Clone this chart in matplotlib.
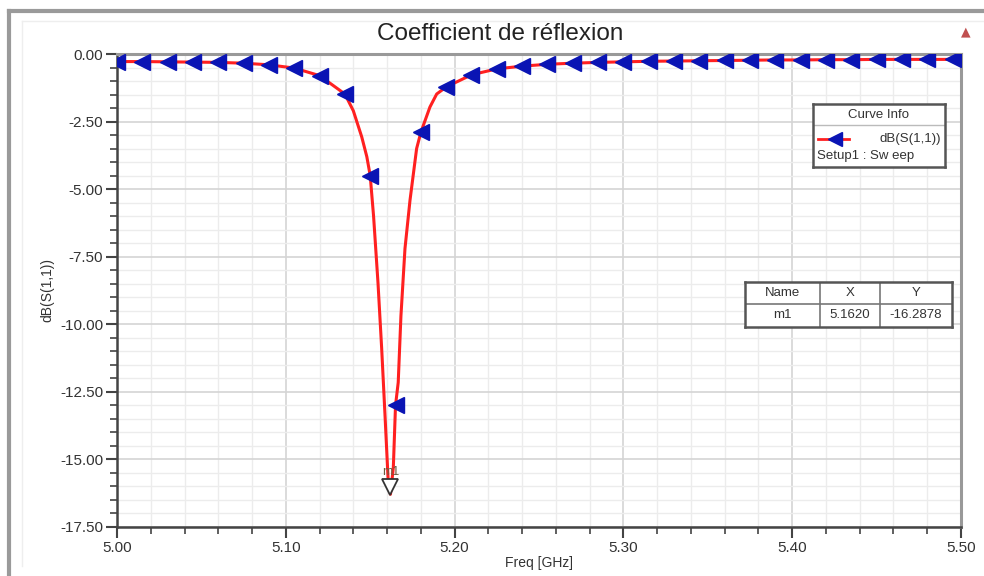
import matplotlib
matplotlib.use("Agg")
import matplotlib.pyplot as plt
from matplotlib.lines import Line2D
import matplotlib.transforms as mtransforms

plt.rcParams['font.family'] = ['Liberation Sans', 'DejaVu Sans']

# S11 curve (GHz, dB)
freq = [5.000, 5.015, 5.030, 5.045, 5.060, 5.075, 5.090, 5.105, 5.120, 5.135,
        5.140, 5.145, 5.148, 5.150, 5.152, 5.1546, 5.1568, 5.1588, 5.1607, 5.162,
        5.1637, 5.165, 5.1666, 5.1682, 5.1706, 5.1736, 5.1775, 5.180, 5.1854, 5.1894,
        5.195, 5.210, 5.225, 5.240, 5.255, 5.270, 5.285, 5.300, 5.315, 5.330,
        5.345, 5.360, 5.375, 5.390, 5.405, 5.420, 5.435, 5.450, 5.465, 5.480,
        5.495, 5.500]
s11 = [-0.28, -0.28, -0.29, -0.30, -0.31, -0.34, -0.40, -0.52, -0.80, -1.48,
       -2.10, -3.07, -3.80, -4.50, -6.00, -8.45, -10.90, -13.40, -15.85, -16.29,
       -15.30, -13.00, -12.15, -9.70, -7.20, -5.40, -3.50, -2.90, -1.96, -1.48,
       -1.22, -0.77, -0.55, -0.45, -0.38, -0.34, -0.31, -0.29, -0.27, -0.26,
       -0.25, -0.24, -0.23, -0.22, -0.22, -0.21, -0.21, -0.20, -0.20, -0.20,
       -0.20, -0.20]
# markers are drawn every 0.015 GHz
marker_freq = [5.000, 5.015, 5.030, 5.045, 5.060, 5.075, 5.090, 5.105, 5.120, 5.135,
               5.150, 5.165, 5.180, 5.195, 5.210, 5.225, 5.240, 5.255, 5.270, 5.285,
               5.300, 5.315, 5.330, 5.345, 5.360, 5.375, 5.390, 5.405, 5.420, 5.435,
               5.450, 5.465, 5.480, 5.495]
mark_idx = [freq.index(f) for f in marker_freq]

m1_x = 5.1620
m1_y = -16.2878

xticks = [5.00, 5.10, 5.20, 5.30, 5.40, 5.50]
yticks = [0.00, -2.50, -5.00, -7.50, -10.00, -12.50, -15.00, -17.50]

fig = plt.figure(figsize=(9.84, 5.76), dpi=100)
W, H = 984.0, 576.0

# outer window frame
fig.add_artist(Line2D([9 / W, 9 / W], [0, 1 - 11 / H], transform=fig.transFigure, color='#9a9a9a', lw=3))
fig.add_artist(Line2D([9 / W, 1], [1 - 11 / H, 1 - 11 / H], transform=fig.transFigure, color='#9a9a9a', lw=3))
fig.add_artist(Line2D([22 / W, 1], [1 - 21 / H, 1 - 21 / H], transform=fig.transFigure, color='#eeeeee', lw=1))
fig.add_artist(Line2D([22 / W, 22 / W], [10 / H, 1 - 21 / H], transform=fig.transFigure, color='#eeeeee', lw=1))

ax = fig.add_axes([117 / W, 1 - 527 / H, (961 - 117) / W, (527 - 54) / H])

ax.plot(freq, s11, color='#ff2020', lw=2.2, zorder=3)
ax.plot([freq[i] for i in mark_idx], [s11[i] for i in mark_idx], ls='none',
        marker='<', ms=12, color='#0a14b4', mec='#0a14b4', zorder=4)

# m1 marker (hollow triangle with its tip on the point)
off = mtransforms.offset_copy(ax.transData, fig=fig, x=0, y=7, units='dots')
ax.plot([m1_x], [m1_y], marker='v', ms=11, mfc='white', mec='#333333', mew=1.3,
        transform=off, zorder=5, clip_on=False)
ax.text(m1_x, m1_y, 'm1', transform=mtransforms.offset_copy(ax.transData, fig=fig, x=0, y=16, units='dots'),
        ha='center', va='bottom', fontsize=9, color='#6b5a40', zorder=5)

ax.set_xlim(5.0, 5.5)
ax.set_ylim(-17.5, 0.0)
ax.set_xticks(xticks)
ax.set_yticks(yticks)
ax.set_xticklabels(['%.2f' % v for v in xticks], fontsize=11, color='#333333')
ax.set_yticklabels(['%.2f' % v for v in yticks], fontsize=11, color='#333333')
ax.set_xticks([5.0 + 0.02 * i for i in range(26)], minor=True)
ax.set_yticks([-0.5 * i for i in range(36)], minor=True)
ax.tick_params(which='major', direction='out', length=8, width=1.5, color='#444444', pad=2)
ax.tick_params(which='minor', direction='out', length=5, width=1.2, color='#444444')
ax.grid(which='major', color='#d4d4d4', lw=1.2)
ax.grid(which='minor', color='#ececec', lw=1.0)
ax.set_axisbelow(True)

for side in ['left', 'bottom']:
    ax.spines[side].set_color('#444444')
    ax.spines[side].set_linewidth(1.8)
for side in ['top', 'right']:
    ax.spines[side].set_color('#999999')
    ax.spines[side].set_linewidth(2.2)

ax.set_xlabel('Freq [GHz]', fontsize=10, color='#333333', labelpad=1)
ax.set_ylabel('dB(S(1,1))', fontsize=10, color='#333333', labelpad=4)

fig.text(500 / W, 1 - 34 / H, 'Coefficient de réflexion', ha='center', va='center', fontsize=17.5, color='#222222')
fig.text(966 / W, 1 - 32 / H, '▲', ha='center', va='center', fontsize=9, color='#c05050',
         family=['DejaVu Sans'])

# Curve Info box
lg = fig.add_axes([813 / W, 1 - 167 / H, (945 - 813) / W, (167 - 104) / H])
lg.set_xlim(0, 1)
lg.set_ylim(0, 1)
lg.set_xticks([])
lg.set_yticks([])
for s in lg.spines.values():
    s.set_color('#555555')
    s.set_linewidth(1.8)
lg.axhline(0.66, color='#bbbbbb', lw=1)
lg.text(0.5, 0.83, 'Curve Info', ha='center', va='center', fontsize=9.5, color='#333333')
lg.plot([0.04, 0.27], [0.45, 0.45], color='#ff2020', lw=2)
lg.plot([0.17], [0.45], marker='<', ms=10, color='#0a14b4', ls='none')
lg.text(0.97, 0.45, 'dB(S(1,1))', ha='right', va='center', fontsize=9.5, color='#333333')
lg.text(0.03, 0.18, 'Setup1 : Sw eep', ha='left', va='center', fontsize=9.5, color='#333333')

# marker table
tb = fig.add_axes([745 / W, 1 - 327 / H, (952 - 745) / W, (327 - 282) / H])
tb.set_xlim(0, 207)
tb.set_ylim(0, 45)
tb.set_xticks([])
tb.set_yticks([])
tb.set_facecolor('white')
for s in tb.spines.values():
    s.set_color('#555555')
    s.set_linewidth(1.8)
tb.axhline(23, color='#777777', lw=1.2)
tb.axvline(75, color='#777777', lw=1.2)
tb.axvline(135, color='#777777', lw=1.2)
tb.text(37, 34, 'Name', ha='center', va='center', fontsize=9.5, color='#333333')
tb.text(105, 34, 'X', ha='center', va='center', fontsize=9.5, color='#333333')
tb.text(171, 34, 'Y', ha='center', va='center', fontsize=9.5, color='#333333')
tb.text(37, 11.5, 'm1', ha='center', va='center', fontsize=9.5, color='#333333')
tb.text(105, 11.5, '%.4f' % m1_x, ha='center', va='center', fontsize=9.5, color='#333333')
tb.text(171, 11.5, '%.4f' % m1_y, ha='center', va='center', fontsize=9.5, color='#333333')

fig.savefig('out.png', dpi=100)
